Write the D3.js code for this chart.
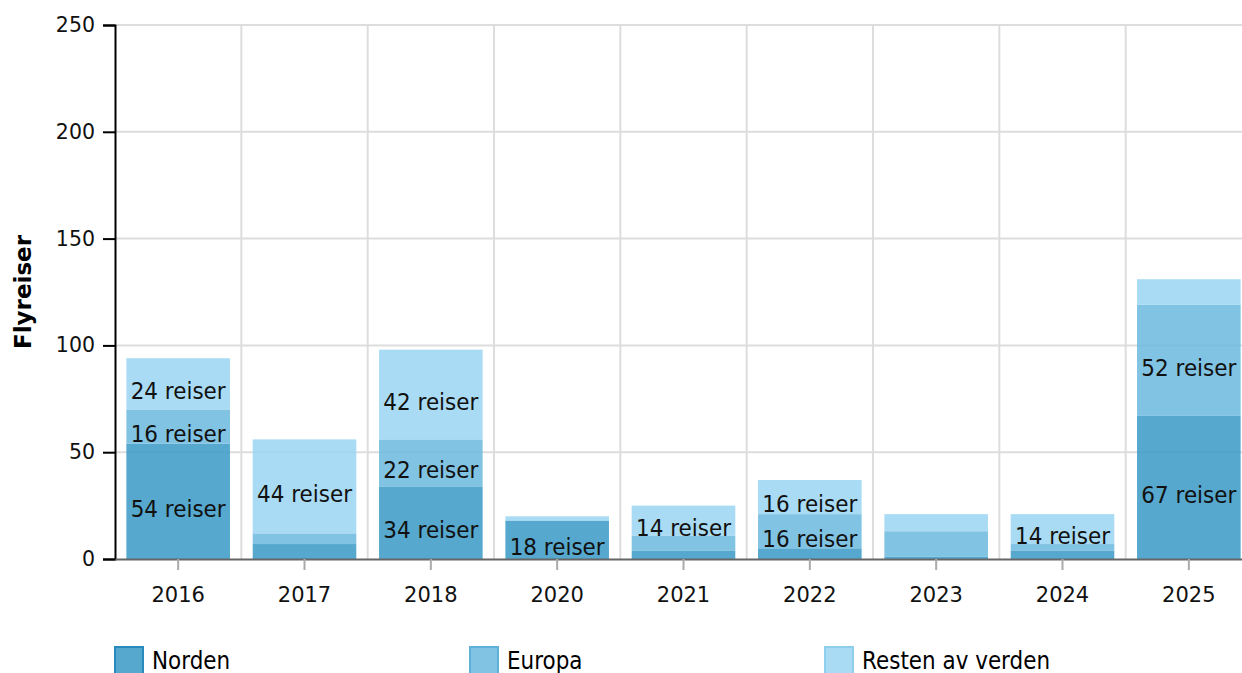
<!DOCTYPE html>
<html>
<head>
<meta charset="utf-8">
<script src="https://cdn.jsdelivr.net/npm/d3@7"></script>
<style>
  body { margin: 0; background: #fff; }
  svg { display: block; font-family: "DejaVu Sans", Verdana, sans-serif; }
</style>
</head>
<body>
<svg id="chart" width="1242" height="673"></svg>
<script>
// data
var years = ["2016", "2017", "2018", "2020", "2021", "2022", "2023", "2024", "2025"];
var norden = [54, 7, 34, 18, 4, 5, 1, 4, 67];
var europa = [16, 5, 22, 0, 7, 16, 12, 3, 52];
var resten = [24, 44, 42, 2, 14, 16, 8, 14, 12];
var seriesNames = ["Norden", "Europa", "Resten av verden"];
var yTicks = [0, 50, 100, 150, 200, 250];

var colors = ["#3f9cc7", "#6fbbdf", "#9dd7f2"];
var borders = ["#2a8abd", "#5fb0d9", "#8fcfee"];

var svg = d3.select("#chart");
var plotLeft = 115, plotTop = 25, plotBottom = 559, plotRight = 1252;

var x = d3.scaleBand().domain(years).range([plotLeft, plotRight]).paddingInner(0.18).paddingOuter(0.09);
var y = d3.scaleLinear().domain([0, 250]).range([plotBottom, plotTop]);

// grid
svg.append("g").selectAll("line").data(yTicks.slice(1)).enter().append("line")
    .attr("x1", plotLeft).attr("x2", plotRight)
    .attr("y1", function (d) { return y(d); }).attr("y2", function (d) { return y(d); })
    .attr("stroke", "#dddddd").attr("stroke-width", 2);
var step = x.step();
svg.append("g").selectAll("line").data(years.slice(1)).enter().append("line")
    .attr("x1", function (d) { return x(d) + x.bandwidth() / 2 - step / 2; })
    .attr("x2", function (d) { return x(d) + x.bandwidth() / 2 - step / 2; })
    .attr("y1", plotTop).attr("y2", plotBottom)
    .attr("stroke", "#dddddd").attr("stroke-width", 2);

// stacked bars
var rows = years.map(function (yr, i) {
    return { year: yr, Norden: norden[i], Europa: europa[i], "Resten av verden": resten[i] };
});
var stack = d3.stack().keys(seriesNames)(rows);

var layers = svg.append("g").selectAll("g").data(stack).enter().append("g")
    .attr("fill", function (d, i) { return colors[i]; })
    .attr("fill-opacity", 0.88);
layers.selectAll("rect").data(function (d) { return d; }).enter().append("rect")
    .attr("x", function (d) { return x(d.data.year); })
    .attr("width", x.bandwidth())
    .attr("y", function (d) { return y(d[1]); })
    .attr("height", function (d) { return y(d[0]) - y(d[1]); });

// value labels (only segments big enough)
stack.forEach(function (layer) {
    svg.append("g").selectAll("text").data(layer.filter(function (d) { return d[1] - d[0] >= 14; }))
        .enter().append("text")
        .attr("transform", function (d) {
            return "translate(" + (x(d.data.year) + x.bandwidth() / 2) + "," + (y((d[0] + d[1]) / 2) + 7) + ") scale(1,1.08)";
        })
        .attr("text-anchor", "middle")
        .attr("dominant-baseline", "central")
        .attr("font-size", 21.5)
        .attr("fill", "#111")
        .text(function (d) { return (d[1] - d[0]) + " reiser"; });
});

// axes
var yAxis = d3.axisLeft(y).tickValues(yTicks).tickSize(12).tickPadding(8);
var gy = svg.append("g").attr("transform", "translate(" + plotLeft + ",0)").call(yAxis);
gy.select(".domain").attr("stroke", "#000").attr("stroke-width", 2);
gy.selectAll(".tick line").attr("stroke", "#000").attr("stroke-width", 2);
gy.selectAll(".tick text").attr("font-size", 20.5).attr("font-family", "DejaVu Sans").attr("fill", "#111");

var xAxis = d3.axisBottom(x).tickSize(11).tickPadding(17).tickSizeOuter(0);
var gx = svg.append("g").attr("transform", "translate(0," + plotBottom + ")").call(xAxis);
gx.select(".domain").attr("stroke", "#666").attr("stroke-width", 2);
gx.selectAll(".tick line").attr("stroke", "#aaa").attr("stroke-width", 2);
gx.selectAll(".tick text").attr("font-size", 21).attr("font-family", "DejaVu Sans").attr("fill", "#111");

svg.append("text")
    .attr("transform", "translate(31," + (plotTop + plotBottom) / 2 + ") rotate(-90)")
    .attr("text-anchor", "middle")
    .attr("font-size", 23).attr("font-weight", "bold")
    .text("Flyreiser");

// legend
var legend = svg.append("g").selectAll("g").data(seriesNames).enter().append("g")
    .attr("transform", function (d, i) { return "translate(" + (115 + i * 355) + ",647)"; });
legend.append("rect")
    .attr("width", 28).attr("height", 30)
    .attr("fill", function (d, i) { return colors[i]; }).attr("fill-opacity", 0.88)
    .attr("stroke", function (d, i) { return borders[i]; }).attr("stroke-width", 2);
legend.append("text")
    .attr("x", 37).attr("y", 20)
    .attr("font-size", 21.5)
    .attr("transform", "scale(1,1.12)")
    .text(function (d) { return d; });
</script>
</body>
</html>
